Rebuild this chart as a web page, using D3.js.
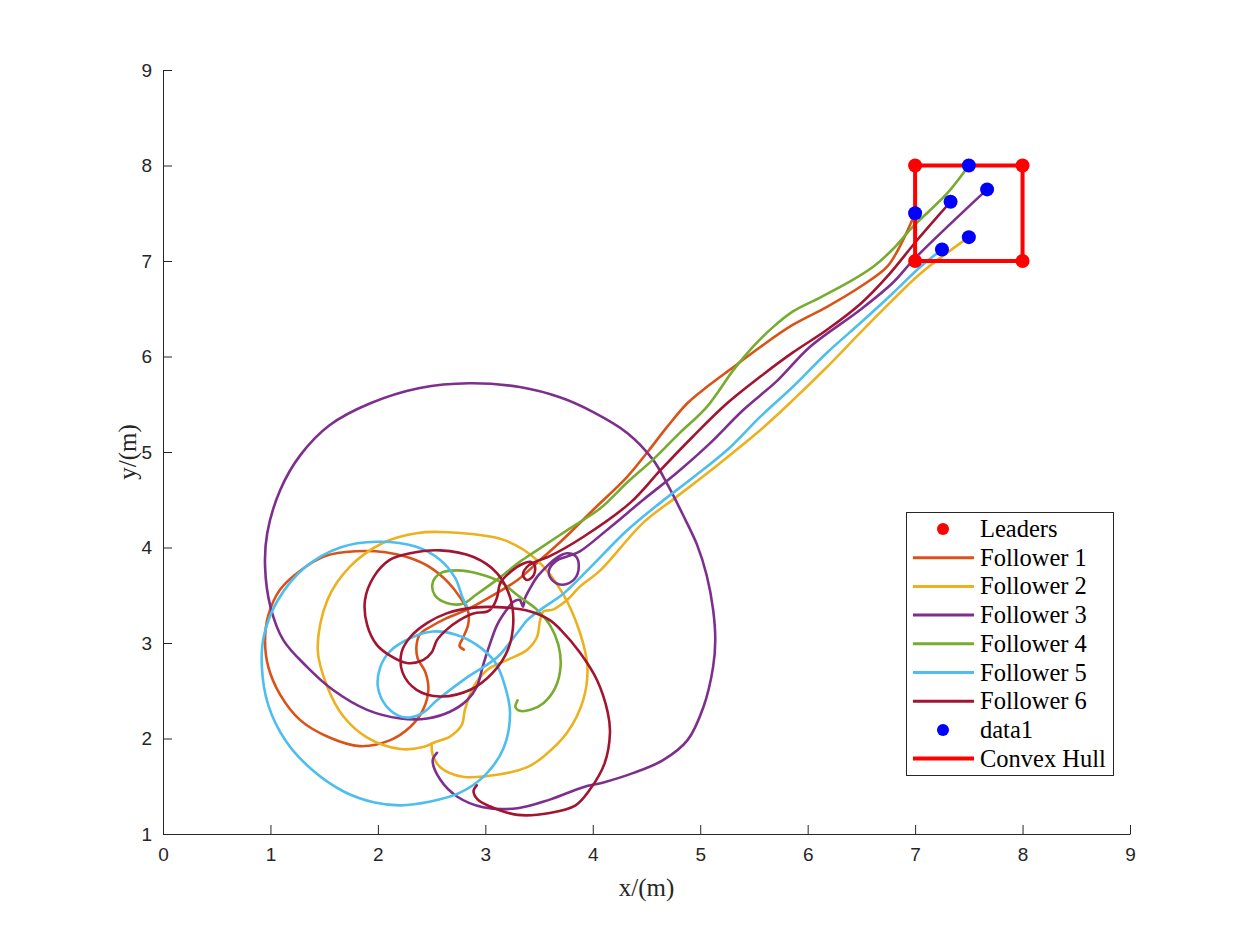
<!DOCTYPE html>
<html>
<head>
<meta charset="utf-8">
<script src="https://cdn.jsdelivr.net/npm/d3@7"></script>
<style>
  body { margin: 0; background: #fff; }
  #chart-area svg { display: block; }
</style>
</head>
<body>
<div id="chart-area"></div>
<script>
// follower trajectories, [x, y] in metres
var follower1 = [[2.80,2.93],[2.76,2.97],[2.79,3.05],[2.84,3.19],[2.84,3.33],[2.77,3.47],[2.65,3.64],[2.49,3.79],[2.30,3.89],[2.07,3.95],[1.79,3.96],[1.51,3.91],[1.28,3.76],[1.09,3.56],[0.98,3.29],[0.95,3.03],[0.98,2.75],[1.09,2.46],[1.28,2.19],[1.55,2.01],[1.83,1.92],[2.11,1.98],[2.30,2.12],[2.42,2.30],[2.47,2.51],[2.44,2.70],[2.37,2.84],[2.36,2.98],[2.39,3.09],[2.49,3.17],[2.64,3.26],[2.83,3.35],[3.04,3.48],[3.30,3.66],[3.51,3.87],[3.70,4.06],[4.00,4.39],[4.32,4.74],[4.51,5.00],[4.69,5.26],[4.88,5.51],[5.06,5.68],[5.31,5.89],[5.56,6.10],[5.86,6.33],[6.18,6.52],[6.49,6.73],[6.74,6.94],[6.87,7.18],[7.00,7.50]];

var follower2 = [[2.50,1.95],[2.51,1.83],[2.58,1.70],[2.79,1.60],[3.11,1.62],[3.39,1.70],[3.54,1.81],[3.76,2.06],[3.91,2.40],[3.95,2.75],[3.88,3.11],[3.72,3.52],[3.48,3.87],[3.17,4.08],[2.64,4.16],[2.36,4.15],[2.05,4.05],[1.74,3.80],[1.53,3.45],[1.44,2.93],[1.53,2.54],[1.68,2.23],[1.90,2.01],[2.21,1.89],[2.42,1.91],[2.53,1.96],[2.67,2.02],[2.78,2.14],[2.81,2.30],[2.89,2.54],[3.02,2.72],[3.20,2.82],[3.39,2.93],[3.48,3.06],[3.51,3.24],[3.54,3.33],[3.63,3.35],[3.76,3.45],[3.88,3.59],[4.07,3.76],[4.47,4.26],[4.78,4.53],[5.18,4.88],[5.56,5.23],[5.86,5.54],[6.18,5.89],[6.49,6.25],[6.79,6.59],[7.05,6.87],[7.50,7.25]];

var follower3 = [[2.55,1.85],[2.51,1.77],[2.58,1.57],[2.74,1.39],[2.98,1.28],[3.30,1.27],[3.60,1.36],[3.91,1.49],[4.10,1.54],[4.38,1.64],[4.65,1.77],[4.88,1.98],[5.03,2.33],[5.12,2.75],[5.14,3.03],[5.12,3.35],[5.06,3.71],[4.97,4.03],[4.84,4.34],[4.70,4.65],[4.56,4.92],[4.32,5.20],[4.00,5.42],[3.70,5.57],[3.32,5.68],[2.85,5.72],[2.39,5.67],[1.93,5.51],[1.55,5.28],[1.28,4.97],[1.09,4.60],[0.97,4.15],[0.95,3.80],[1.00,3.38],[1.12,3.03],[1.34,2.75],[1.58,2.51],[1.90,2.30],[2.21,2.21],[2.46,2.21],[2.67,2.28],[2.83,2.40],[2.92,2.54],[2.98,2.77],[3.04,2.98],[3.11,3.19],[3.20,3.35],[3.26,3.43],[3.32,3.45],[3.35,3.38],[3.37,3.47],[3.42,3.58],[3.48,3.69],[3.57,3.80],[3.66,3.89],[3.76,3.94],[3.84,3.91],[3.87,3.81],[3.83,3.67],[3.72,3.61],[3.63,3.65],[3.59,3.75],[3.66,3.86],[3.77,3.91],[3.88,3.96],[4.16,4.21],[4.47,4.50],[4.78,4.78],[5.09,5.09],[5.40,5.44],[5.72,5.75],[6.02,6.10],[6.49,6.49],[6.79,6.77],[7.00,7.03],[7.67,7.75]];

var follower4 = [[3.30,2.40],[3.28,2.33],[3.32,2.29],[3.42,2.30],[3.54,2.37],[3.65,2.53],[3.70,2.75],[3.68,2.98],[3.60,3.19],[3.48,3.35],[3.30,3.50],[3.14,3.64],[2.92,3.73],[2.74,3.76],[2.58,3.73],[2.51,3.63],[2.53,3.50],[2.64,3.42],[2.79,3.41],[2.92,3.51],[3.14,3.69],[3.32,3.85],[3.48,3.97],[3.76,4.18],[4.07,4.41],[4.32,4.68],[4.56,4.92],[4.81,5.20],[5.06,5.47],[5.31,5.86],[5.49,6.10],[5.68,6.31],[5.86,6.47],[6.12,6.62],[6.37,6.77],[6.61,6.94],[6.79,7.12],[6.98,7.36],[7.30,7.71],[7.50,8.00]];

var follower5 = [[2.83,3.38],[2.79,3.47],[2.72,3.68],[2.58,3.87],[2.35,4.01],[1.99,4.06],[1.65,4.00],[1.32,3.79],[1.07,3.45],[0.94,3.08],[0.92,2.75],[0.98,2.35],[1.14,1.98],[1.39,1.67],[1.69,1.44],[1.97,1.33],[2.21,1.30],[2.49,1.34],[2.76,1.43],[3.00,1.62],[3.17,1.90],[3.23,2.27],[3.18,2.56],[3.09,2.80],[2.92,2.98],[2.72,3.09],[2.51,3.12],[2.30,3.05],[2.11,2.91],[2.02,2.74],[2.00,2.54],[2.07,2.35],[2.19,2.24],[2.30,2.22],[2.42,2.27],[2.55,2.40],[2.83,2.64],[3.11,2.85],[3.30,3.11],[3.39,3.24],[3.54,3.37],[3.72,3.51],[3.95,3.76],[4.32,4.18],[4.63,4.47],[4.93,4.73],[5.25,5.02],[5.56,5.37],[5.86,5.68],[6.18,6.04],[6.49,6.35],[6.79,6.66],[7.05,6.94],[7.25,7.12]];

var follower6 = [[2.92,1.51],[2.89,1.45],[2.93,1.36],[3.04,1.29],[3.30,1.20],[3.60,1.22],[3.84,1.30],[3.97,1.46],[4.11,1.74],[4.16,2.06],[4.14,2.27],[4.04,2.61],[3.88,2.90],[3.70,3.14],[3.60,3.24],[3.42,3.33],[3.20,3.37],[2.89,3.37],[2.64,3.31],[2.46,3.21],[2.30,3.06],[2.22,2.90],[2.23,2.69],[2.36,2.51],[2.58,2.44],[2.86,2.51],[3.07,2.69],[3.21,2.93],[3.26,3.21],[3.23,3.48],[3.11,3.73],[2.89,3.90],[2.58,3.97],[2.30,3.94],[2.11,3.87],[1.96,3.69],[1.88,3.45],[1.90,3.19],[1.99,2.98],[2.11,2.87],[2.27,2.79],[2.42,2.82],[2.50,2.90],[2.55,3.03],[2.64,3.14],[2.76,3.24],[2.89,3.31],[3.02,3.33],[3.07,3.38],[3.11,3.48],[3.14,3.63],[3.23,3.74],[3.35,3.83],[3.42,3.85],[3.46,3.81],[3.45,3.71],[3.39,3.66],[3.35,3.71],[3.40,3.81],[3.51,3.87],[3.60,3.91],[3.91,4.11],[4.35,4.47],[4.63,4.81],[4.93,5.16],[5.25,5.51],[5.56,5.79],[5.86,6.04],[6.18,6.28],[6.49,6.55],[6.75,6.85],[7.02,7.22],[7.33,7.62]];

var followers = [follower1, follower2, follower3, follower4, follower5, follower6];
var followerNames = ['Follower 1', 'Follower 2', 'Follower 3', 'Follower 4', 'Follower 5', 'Follower 6'];
var followerColors = ['#D95319', '#EDB120', '#7E2F8E', '#77AC30', '#4DBEEE', '#A2142F'];

var leadersX = [7, 7, 8, 8];
var leadersY = [7, 8, 7, 8];

// final follower positions (data1)
var data1X = [7.00, 7.50, 7.33, 7.67, 7.25, 7.50];
var data1Y = [7.50, 8.00, 7.62, 7.75, 7.12, 7.25];

var hullX = [7, 8, 8, 7, 7];
var hullY = [7, 7, 8, 8, 7];

var xTicks = [0, 1, 2, 3, 4, 5, 6, 7, 8, 9];
var yTicks = [1, 2, 3, 4, 5, 6, 7, 8, 9];

var margin = { left: 163, right: 120, top: 70, bottom: 104 };
var width = 1250 - margin.left - margin.right,
    height = 938 - margin.top - margin.bottom;

var svg = d3.select('#chart-area')
  .append('svg')
    .attr('width', 1250)
    .attr('height', 938);

var g = svg.append('g')
  .attr('transform', 'translate(' + margin.left + ', ' + margin.top + ')');

var x = d3.scaleLinear().domain([0, 9]).range([0, width]);
var y = d3.scaleLinear().domain([1, 9]).range([height, 0]);

var line = d3.line()
  .x(d => x(d[0]))
  .y(d => y(d[1]))
  .curve(d3.curveCatmullRom.alpha(0.5));

// axes, ticks pointing inward like matlab
var xAxis = d3.axisBottom(x).tickValues(xTicks).tickSize(-9).tickSizeOuter(0).tickPadding(14);
var yAxis = d3.axisLeft(y).tickValues(yTicks).tickSize(-9).tickSizeOuter(0).tickPadding(11);

var gx = g.append('g')
  .attr('class', 'x-axis')
  .attr('transform', 'translate(0, ' + height + ')')
  .call(xAxis);

var gy = g.append('g')
  .attr('class', 'y-axis')
  .call(yAxis);

[gx, gy].forEach(a => {
  a.selectAll('path, line').attr('stroke', '#262626').attr('stroke-width', 1);
  a.selectAll('text')
    .attr('fill', '#262626')
    .style('font-family', 'Arial, "Liberation Sans", sans-serif')
    .style('font-size', '19px');
});

g.append('text')
  .attr('x', width / 2)
  .attr('y', height + 62)
  .attr('text-anchor', 'middle')
  .style('font-family', '"Liberation Serif", "Times New Roman", serif')
  .style('font-size', '25px')
  .attr('fill', '#262626')
  .text('x/(m)');

g.append('text')
  .attr('transform', 'translate(-27, ' + (height / 2) + ') rotate(-90)')
  .attr('text-anchor', 'middle')
  .style('font-family', '"Liberation Serif", "Times New Roman", serif')
  .style('font-size', '25px')
  .attr('fill', '#262626')
  .text('y/(m)');

// trajectories
g.selectAll('.traj')
  .data(followers)
  .enter()
  .append('path')
    .attr('class', 'traj')
    .attr('d', d => line(d))
    .attr('fill', 'none')
    .attr('stroke', (d, i) => followerColors[i])
    .attr('stroke-width', 2.6)
    .attr('stroke-linejoin', 'round')
    .attr('stroke-linecap', 'round');

// convex hull of leaders
var hullPts = hullX.map((v, i) => [v, hullY[i]]);
g.append('path')
  .attr('d', d3.line().x(d => x(d[0])).y(d => y(d[1]))(hullPts))
  .attr('fill', 'none')
  .attr('stroke', '#FF0000')
  .attr('stroke-width', 4);

g.selectAll('.leader')
  .data(leadersX)
  .enter()
  .append('circle')
    .attr('class', 'leader')
    .attr('cx', d => x(d))
    .attr('cy', (d, i) => y(leadersY[i]))
    .attr('r', 7)
    .attr('fill', '#FF0000');

g.selectAll('.final')
  .data(data1X)
  .enter()
  .append('circle')
    .attr('class', 'final')
    .attr('cx', d => x(d))
    .attr('cy', (d, i) => y(data1Y[i]))
    .attr('r', 7)
    .attr('fill', '#0000FF');

// legend
var legendItems = [{ name: 'Leaders', type: 'dot', color: '#FF0000' }];
followerNames.forEach((n, i) => legendItems.push({ name: n, type: 'line', color: followerColors[i], w: 3 }));
legendItems.push({ name: 'data1', type: 'dot', color: '#0000FF' });
legendItems.push({ name: 'Convex Hull', type: 'line', color: '#FF0000', w: 4 });

var lg = svg.append('g').attr('transform', 'translate(906, 512)');
lg.append('rect')
  .attr('x', 0.5).attr('y', 0.5)
  .attr('width', 207).attr('height', 263)
  .attr('fill', '#fff')
  .attr('stroke', '#262626')
  .attr('stroke-width', 1);

var rowH = 28.7;
legendItems.forEach((it, i) => {
  var cy = 17 + i * rowH;
  if (it.type === 'dot') {
    lg.append('circle').attr('cx', 37).attr('cy', cy).attr('r', 6).attr('fill', it.color);
  } else {
    lg.append('line')
      .attr('x1', 7).attr('x2', 68)
      .attr('y1', cy).attr('y2', cy)
      .attr('stroke', it.color)
      .attr('stroke-width', it.w);
  }
  lg.append('text')
    .attr('x', 74)
    .attr('y', cy + 8)
    .style('font-family', '"Liberation Serif", "Times New Roman", serif')
    .style('font-size', '24.5px')
    .attr('fill', '#000')
    .text(it.name);
});
</script>
</body>
</html>
